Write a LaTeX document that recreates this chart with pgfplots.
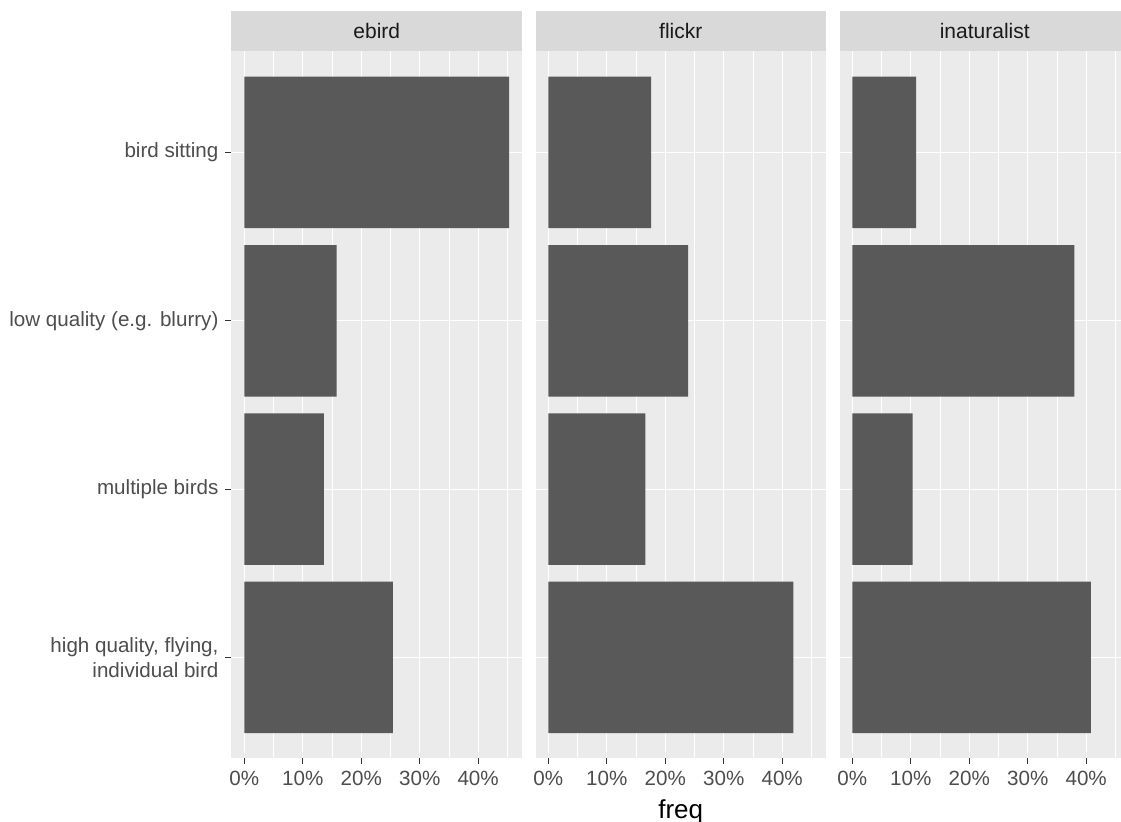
\documentclass[border=0pt]{standalone}
\usepackage{fontspec}
\setmainfont{Liberation Sans}
\usepackage{pgfplots}
\usepackage{pgfplotstable}
\pgfplotsset{compat=1.18}

\definecolor{panelgray}{HTML}{EBEBEB}
\definecolor{stripgray}{HTML}{D9D9D9}
\definecolor{bargray}{HTML}{595959}
\definecolor{gray30}{HTML}{4D4D4D}
\definecolor{gray20}{HTML}{333333}
\definecolor{gray10}{HTML}{1A1A1A}

% share of images per category (%), 1 = bottom row
\pgfplotstableread{
pos ebird flickr inat
1 25.4 41.9 40.8
2 13.6 16.6 10.3
3 15.8 23.9 38.0
4 45.3 17.6 10.9
}\freqdata

\pgfplotsset{
  facet/.style={
    scale only axis, width=145.25pt, height=353.5pt,
    anchor=north west,
    xmin=-2.2, xmax=47.5, ymin=0.4, ymax=4.6,
    xbar, bar width=0.9,
    axis x line*=bottom, axis y line*=left,
    axis line style={draw=none},
    axis background/.style={fill=panelgray},
    xtick={0,10,20,30,40}, minor xtick={5,15,25,35,45},
    ytick={1,2,3,4},
    xmajorgrids, xminorgrids, ymajorgrids,
    major grid style={white, line width=0.55pt},
    minor grid style={white, line width=0.28pt},
    tick align=outside, major tick length=3pt, minor tick length=0pt,
    tick style={gray20, line width=0.55pt},
    xticklabel={\pgfmathprintnumber{\tick}\%},
    /pgf/number format/assume math mode=true,
    ticklabel style={font=\fontsize{10.3}{12.3}\selectfont, text=gray30},
    title style={at={(0.5,1)}, anchor=south, yshift=-6pt, fill=stripgray,
      minimum width=145.25pt, minimum height=20.25pt, inner sep=0pt,
      font=\fontsize{10.5}{12}\selectfont, text=gray10},
  },
  noylabels/.style={yticklabels={}, ytick style={draw=none}},
}

\begin{document}
\begin{tikzpicture}
\useasboundingbox (0,0) rectangle (560.5pt,-411pt);
\clip (0,0) rectangle (560.5pt,-411pt);

\begin{axis}[facet, at={(115.75pt,-25.75pt)}, title={ebird},
  yticklabels={{high quality, flying,\\individual bird},multiple birds,{low quality (e.g. blurry)},bird sitting},
  yticklabel style={align=right}]
\addplot[fill=bargray, draw=none] table[x=ebird, y=pos] {\freqdata};
\end{axis}

\begin{axis}[facet, noylabels, at={(267.75pt,-25.75pt)}, title={flickr},
  xlabel={freq}, xlabel style={font=\fontsize{13}{15}\selectfont, text=black}]
\addplot[fill=bargray, draw=none] table[x=flickr, y=pos] {\freqdata};
\end{axis}

\begin{axis}[facet, noylabels, at={(419.75pt,-25.75pt)}, title={inaturalist}]
\addplot[fill=bargray, draw=none] table[x=inat, y=pos] {\freqdata};
\end{axis}
\end{tikzpicture}
\end{document}
